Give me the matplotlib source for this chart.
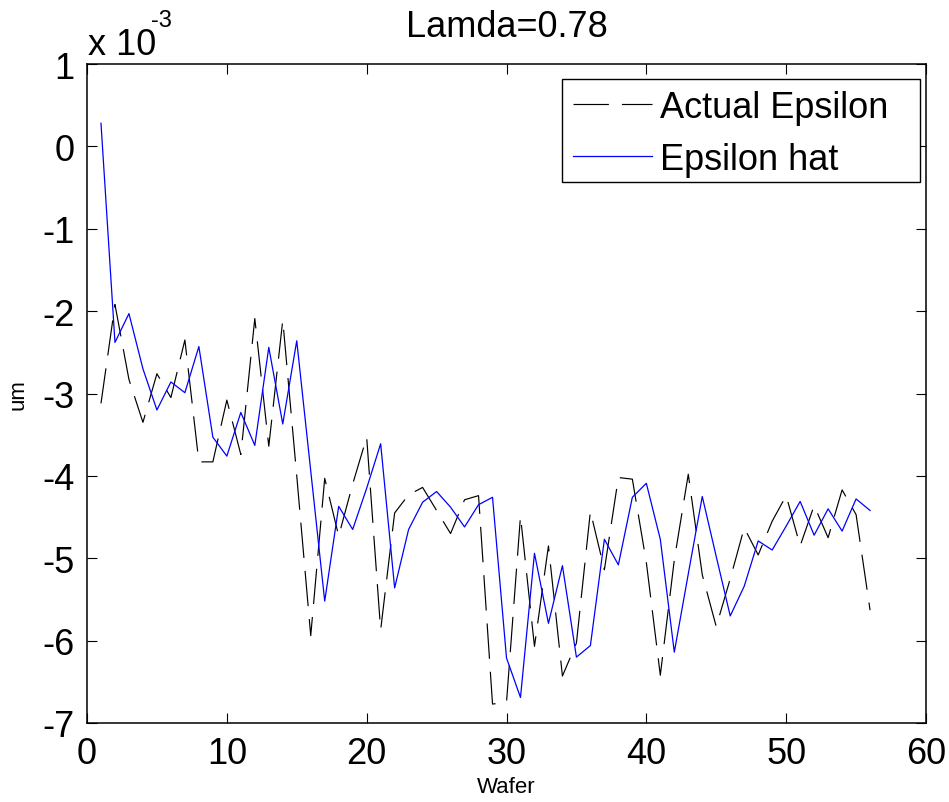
import numpy as np
import matplotlib
matplotlib.use("Agg")
import matplotlib.pyplot as plt
from matplotlib.patches import Rectangle

plt.rcParams['font.family'] = ['Liberation Sans', 'DejaVu Sans']

wafer = list(range(1, 57))

# values in units of 1e-3 um
actual_epsilon = [-3.12, -1.92, -2.83, -3.35, -2.76, -3.05, -2.35, -3.83, -3.83, -3.08,
                  -3.74, -2.09, -3.64, -2.11, -4.00, -5.94, -4.03, -4.73, -4.10, -3.53,
                  -5.87, -4.45, -4.23, -4.14, -4.42, -4.70, -4.29, -4.24, -6.77, -6.75,
                  -4.49, -6.07, -4.85, -6.43, -6.03, -4.43, -5.14, -4.02, -4.04, -5.05,
                  -6.42, -5.02, -3.98, -5.20, -5.83, -5.25, -4.63, -4.96, -4.55, -4.24,
                  -4.85, -4.36, -4.75, -4.17, -4.47, -5.63]

epsilon_hat = [0.28, -2.38, -2.03, -2.70, -3.20, -2.86, -2.99, -2.43, -3.53, -3.76,
               -3.23, -3.63, -2.44, -3.37, -2.36, -3.94, -5.52, -4.37, -4.65, -4.15,
               -3.61, -5.36, -4.65, -4.32, -4.19, -4.38, -4.62, -4.35, -4.26, -6.21,
               -6.69, -4.94, -5.79, -5.09, -6.20, -6.06, -4.77, -5.08, -4.26, -4.09,
               -4.77, -6.14, -5.19, -4.25, -4.98, -5.70, -5.34, -4.79, -4.90, -4.61,
               -4.31, -4.72, -4.40, -4.67, -4.28, -4.42]

xticks = [0, 10, 20, 30, 40, 50, 60]
yticks = [-7, -6, -5, -4, -3, -2, -1, 0, 1]

W, H = 949, 803
fig = plt.figure(figsize=(W / 100, H / 100), dpi=100)
L, R, T, B = 87, 926, 65, 724
ax = fig.add_axes([L / W, 1 - B / H, (R - L) / W, (B - T) / H])

ax.plot(wafer, actual_epsilon, color='black', linewidth=0.85,
        linestyle=(0, (30, 11)), label='Actual Epsilon')
ax.plot(wafer, epsilon_hat, color='#0000ff', linewidth=0.9,
        label='Epsilon hat')

ax.set_xlim(0, 60)
ax.set_ylim(-7, 1)
ax.set_xticks(xticks)
ax.set_yticks(yticks)
ax.set_xticklabels([str(t) for t in xticks])
ax.set_yticklabels([str(t) for t in yticks])
ax.tick_params(direction='in', length=7, width=0.8, labelsize=26,
               top=True, right=True, pad=9)
for s in ax.spines.values():
    s.set_linewidth(1.1)

ax.set_title('Lamda=0.78', fontsize=26, pad=20)
ax.set_xlabel('Wafer', fontsize=16, labelpad=4)
ax.set_ylabel('um', fontsize=16, labelpad=10)

fig.text(88 / W, 1 - 55 / H, 'x 10', fontsize=26, ha='left', va='baseline')
fig.text(151 / W, 1 - 27 / H, '-3', fontsize=17, ha='left', va='baseline')


def ax_xy(px, py):
    return ((px - L) / (R - L), (B - py) / (B - T))


# legend box (drawn as frame rectangle) and entries
bx0, by0 = ax_xy(562, 183)
bx1, by1 = ax_xy(920, 80)
ax.add_patch(Rectangle((bx0, by0), bx1 - bx0, by1 - by0, transform=ax.transAxes,
                       facecolor='white', edgecolor='black', linewidth=1.0, zorder=5))
leg = ax.legend(loc='upper left', bbox_to_anchor=ax_xy(562, 80),
                borderaxespad=0, fontsize=26, frameon=False,
                handlelength=2.2, handletextpad=0.2, borderpad=0.3,
                labelspacing=0.47)
leg.set_zorder(6)

fig.savefig('out.png', dpi=100, facecolor='white')
